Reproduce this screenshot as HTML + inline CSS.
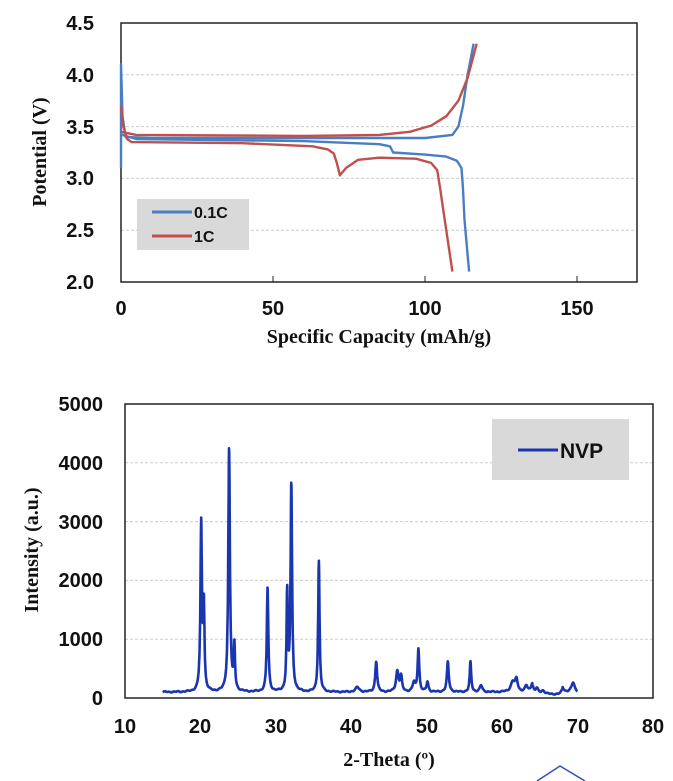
<!DOCTYPE html>
<html><head><meta charset="utf-8"><style>
body{margin:0;background:#fff;width:673px;height:781px;overflow:hidden}
svg{display:block}
text{font-family:"Liberation Sans",Arial,sans-serif;font-weight:bold;fill:#111}
.ser{font-family:"Liberation Serif",serif;font-weight:bold}
</style></head><body>
<svg id="s" width="673" height="781" viewBox="0 0 673 781">
<g stroke="#ccc" stroke-dasharray="3,2" stroke-width="1">
<line x1="121" x2="637" y1="74.8" y2="74.8"/><line x1="121" x2="637" y1="126.6" y2="126.6"/>
<line x1="121" x2="637" y1="178.4" y2="178.4"/><line x1="121" x2="637" y1="230.2" y2="230.2"/>
</g>
<rect x="121" y="23" width="516" height="259" fill="none" stroke="#222" stroke-width="1.5"/>
<g stroke="#222"><line x1="273" x2="273" y1="276" y2="282"/><line x1="425" x2="425" y1="276" y2="282"/><line x1="577" x2="577" y1="276" y2="282"/></g>
<g font-size="20" text-anchor="end">
<text x="94" y="30">4.5</text><text x="94" y="82">4.0</text><text x="94" y="134">3.5</text>
<text x="94" y="185">3.0</text><text x="94" y="237">2.5</text><text x="94" y="289">2.0</text></g>
<g font-size="20" text-anchor="middle">
<text x="121" y="315">0</text><text x="273" y="315">50</text><text x="425" y="315">100</text><text x="577" y="315">150</text></g>
<text class="ser" x="379" y="343" font-size="20" text-anchor="middle">Specific Capacity (mAh/g)</text>
<text class="ser" transform="translate(46,152) rotate(-90)" font-size="20" text-anchor="middle">Potential (V)</text>
<rect x="137" y="199" width="112" height="51" fill="#d9d9d9"/>
<line x1="152" x2="192" y1="212" y2="212" stroke="#4a7ec4" stroke-width="3"/>
<line x1="152" x2="192" y1="236" y2="236" stroke="#c0504d" stroke-width="3"/>
<text x="194" y="218" font-size="16" fill="#444">0.1C</text>
<text x="194" y="242" font-size="16" fill="#444">1C</text>
<g id="top" fill="none" stroke-width="2.4" stroke-linejoin="round"></g>
<g stroke="#ccc" stroke-dasharray="3,2" stroke-width="1">
<line x1="125" x2="653" y1="462.8" y2="462.8"/><line x1="125" x2="653" y1="521.6" y2="521.6"/>
<line x1="125" x2="653" y1="580.4" y2="580.4"/><line x1="125" x2="653" y1="639.2" y2="639.2"/>
</g>
<rect x="125" y="404" width="528" height="294" fill="none" stroke="#222" stroke-width="1.5"/>
<g font-size="20" text-anchor="end">
<text x="103" y="411">5000</text><text x="103" y="470">4000</text><text x="103" y="529">3000</text>
<text x="103" y="587">2000</text><text x="103" y="646">1000</text><text x="103" y="705">0</text></g>
<g font-size="20" text-anchor="middle">
<text x="125" y="733">10</text><text x="200" y="733">20</text><text x="276" y="733">30</text><text x="351" y="733">40</text>
<text x="427" y="733">50</text><text x="502" y="733">60</text><text x="578" y="733">70</text><text x="653" y="733">80</text></g>
<text class="ser" x="389" y="766" font-size="20" text-anchor="middle">2-Theta (º)</text>
<text class="ser" transform="translate(38,550) rotate(-90)" font-size="20" text-anchor="middle">Intensity (a.u.)</text>
<rect x="492" y="419" width="137" height="61" fill="#d9d9d9"/>
<line x1="518" x2="558" y1="450" y2="450" stroke="#1a35b0" stroke-width="3"/>
<text x="560" y="458" font-size="21">NVP</text>
<path id="xrd" fill="none" stroke="#1a35b0" stroke-width="2.6" stroke-linejoin="round"/>
<path d="M537 781 L560 766 L585 781" fill="none" stroke="#3050c0" stroke-width="1.5"/>
</svg>
<script>
function X(c){return 121+c*3.04} function Y(v){return 282-(v-2)*103.6}
function P(a,col){var d=a.map(function(p,i){return (i?'L':'M')+X(p[0]).toFixed(1)+' '+Y(p[1]).toFixed(1)}).join(' ');
var e=document.createElementNS('http://www.w3.org/2000/svg','path');e.setAttribute('d',d);e.setAttribute('stroke',col);document.getElementById('top').appendChild(e);}
var B='#4a7ec4',R='#c0504d';
P([[0,3.1],[0,4.1],[0.5,3.6],[1.5,3.4],[10,3.39],[100,3.39],[109,3.42],[111,3.5],[112.5,3.7],[114,4.0],[116,4.3]],B);
P([[0.3,3.42],[5,3.38],[60,3.36],[85,3.33],[88.5,3.31],[89.5,3.25],[100,3.23],[107,3.21],[110.5,3.17],[112,3.1],[112.5,2.9],[113,2.6],[114.5,2.1]],B);
P([[0,3.45],[5,3.42],[60,3.41],[85,3.42],[95,3.45],[102,3.51],[107,3.6],[111,3.75],[114,3.97],[117,4.3]],R);
P([[0,3.7],[0.8,3.5],[2,3.38],[3.5,3.35],[40,3.34],[63,3.31],[68,3.28],[70,3.24],[71,3.15],[72,3.03],[74,3.1],[78,3.18],[85,3.2],[97,3.19],[102,3.15],[104,3.08],[105,2.9],[106,2.7],[107.5,2.4],[109,2.1]],R);
var pk=[[20.1,2850,.12],[20.45,1400,.1],[23.8,4150,.13],[24.5,760,.1],[28.9,1780,.12],[31.5,1650,.1],[32.05,3520,.12],[35.7,2230,.11],[40.8,80,.3],[43.3,520,.15],[46.1,350,.2],[46.6,250,.15],[48.3,150,.2],[48.9,730,.13],[50.1,170,.15],[52.8,510,.15],[55.8,510,.12],[57.2,110,.2],[61.4,170,.3],[61.9,200,.2],[63.2,100,.2],[64,140,.2],[64.6,90,.2],[65.4,60,.3],[68,80,.2],[69.4,160,.25]];
var d='';for(var t=15;t<=70;t+=0.03){var v=100+12*Math.sin(t*7.3)*Math.cos(t*3.1);if(t>64&&t<68)v-=40;
pk.forEach(function(p){var q=(t-p[0])/p[2];v+=p[1]/(1+q*q);});
d+=(d?'L':'M')+(125+(t-10)*7.543).toFixed(1)+' '+(698-v*0.0588).toFixed(1);}
document.getElementById('xrd').setAttribute('d',d);
</script>
</body></html>
